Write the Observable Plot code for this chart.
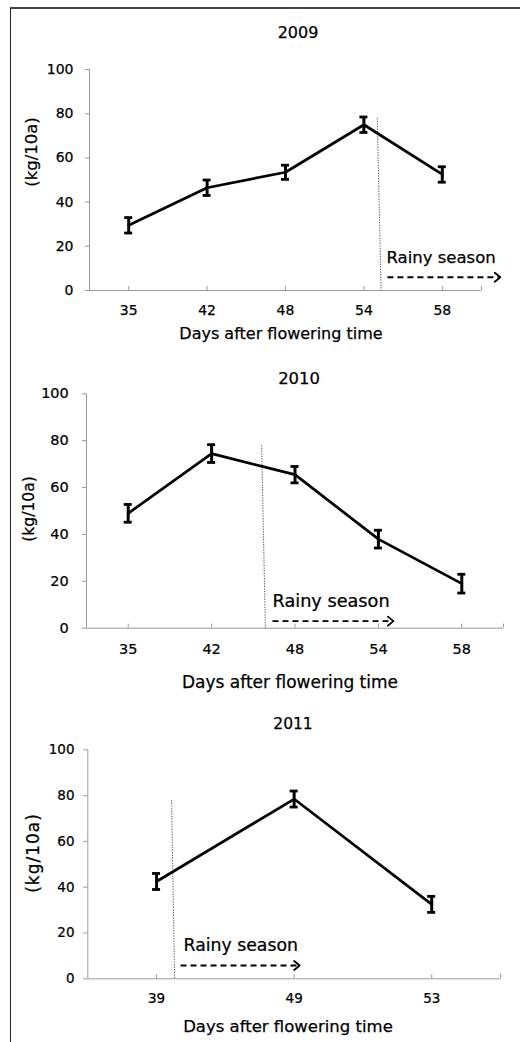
<!DOCTYPE html>
<html><head><meta charset="utf-8">
<script src="https://cdn.jsdelivr.net/npm/d3@7"></script>
<script src="https://cdn.jsdelivr.net/npm/@observablehq/plot@0.6"></script>
<style>
body{margin:0;background:#fff;}
#wrap{position:relative;width:520px;height:1042px;overflow:hidden;font-family:"DejaVu Sans",sans-serif;background:#fff;}
.lbl{position:absolute;white-space:nowrap;transform:translate(-50%,-50%);color:#000;line-height:1;-webkit-text-stroke:0.25px #000;}
.ylbl{transform:translate(-50%,-50%) rotate(-90deg);}
.box{position:absolute;left:0;}
#border{position:absolute;left:10px;top:7px;right:-5px;bottom:-5px;border-top:2px solid #444;border-left:1px solid #222;}
</style></head><body><div id="wrap"><div id="border"></div></div>
<script>
// ---- data ----
const days2009 = [35, 42, 48, 54, 58];
const yield2009 = [29.5, 46.5, 53.5, 75, 52.5];
const err2009 = [3.5, 3.5, 3.2, 3.5, 3.5];

const days2010 = [35, 42, 48, 54, 58];
const yield2010 = [49, 74.5, 65.5, 38, 19];
const err2010 = [3.8, 3.8, 3.5, 3.8, 4];

const days2011 = [39, 49, 53];
const yield2011 = [42.5, 78.5, 32.5];
const err2011 = [3.5, 3.5, 3.5];

const yTicks = [0, 20, 40, 60, 80, 100];
const titles = ["2009", "2010", "2011"];
const xLabel = "Days after flowering time";
const yLabel = "(kg/10a)";
const rainyText = "Rainy season";

// rainy-season onset line and arrow, in category-index / value units
const rainy2009 = {xTop: 3.17, yTop: 78, xBot: 3.22, a0: 3.30, a1: 4.74, ay: 6};
const rainy2010 = {xTop: 1.60, yTop: 78, xBot: 1.645, a0: 1.73, a1: 3.18, ay: 3};
const rainy2011 = {xTop: 0.109, yTop: 78, xBot: 0.131, a0: 0.174, a1: 1.04, ay: 5.8};

// ---- layout ----
const layouts = [
  {top: 0, mt: 69, zero: 290, ml: 89, mr: 39, tf: 14, yPad: 12, xPad: 19, rdx: -1, rfs: 16.5,
   title: [298, 33, 16], xl: [281, 334, 16], yl: [32, 152, 16.5, 0]},
  {top: 330, mt: 63.3, zero: 627.7, ml: 86, mr: 17, tf: 14.5, yPad: 13.7, xPad: 19.2, rdx: 0, rfs: 17.7,
   title: [299, 379, 16.4], xl: [290, 682, 17], yl: [30, 509, 15.5, 0]},
  {top: 700, mt: 49.3, zero: 978.3, ml: 87.3, mr: 20, tf: 13.5, yPad: 9.3, xPad: 19, rdx: 3, rfs: 17.3,
   title: [293, 725, 15.5], xl: [288, 1027, 16.5], yl: [33, 853, 17, 1]}
];

const chevron = {
  draw(ctx, l) {
    ctx.moveTo(-4.5, -l + 5.5);
    ctx.lineTo(0, -l);
    ctx.lineTo(4.5, -l + 5.5);
  }
};

const wrap = document.getElementById("wrap");

function addLabel(text, [x, y, fs, ls], cls) {
  const d = document.createElement("div");
  d.className = "lbl" + (cls ? " " + cls : "");
  d.textContent = text;
  d.style.left = x + "px";
  d.style.top = y + "px";
  d.style.fontSize = fs + "px";
  if (ls) d.style.letterSpacing = ls + "px";
  wrap.appendChild(d);
}

function panel(L, title, days, vals, errs, rainy) {
  const data = days.map((d, i) => ({i, day: d, v: vals[i], e: errs[i]}));
  const n = days.length;
  const xTicks = d3.range(n).concat([n - 0.5]);
  const mb = 35;
  const height = (L.zero - L.top) + mb;
  const gray = "#9a9a9a";
  const svg = Plot.plot({
    width: 520,
    height,
    marginTop: L.mt,
    marginBottom: mb,
    marginLeft: L.ml,
    marginRight: L.mr,
    style: {fontFamily: "DejaVu Sans, sans-serif", fontSize: L.tf + "px", color: "#000", background: "transparent", overflow: "visible"},
    x: {domain: [-0.5, n - 0.5]},
    y: {domain: [0, 100]},
    marks: [
      Plot.ruleX([-0.5], {stroke: gray}),
      Plot.ruleY([0], {stroke: gray}),
      Plot.axisY(yTicks, {tickSize: 4, tickPadding: L.yPad, stroke: gray, fill: "#000", label: null,
        textStroke: "#000", textStrokeWidth: 0.25}),
      Plot.axisX(xTicks, {tickSize: -4, tickPadding: L.xPad, stroke: gray, fill: "#000", label: null,
        textStroke: "#000", textStrokeWidth: 0.25,
        tickFormat: t => Number.isInteger(t) ? String(days[t]) : ""}),
      Plot.link([rainy], {x1: "xTop", y1: "yTop", x2: "xBot", y2: () => 0,
        stroke: "#555", strokeWidth: 1, strokeDasharray: "1.3,1.3"}),
      Plot.link([rainy], {x1: "a0", x2: "a1", y1: "ay", y2: "ay",
        stroke: "#000", strokeWidth: 1.8, strokeDasharray: "6,4"}),
      Plot.vector([rainy], {x: "a1", y: "ay", rotate: 90, length: 6, anchor: "end", shape: chevron,
        stroke: "#000", strokeWidth: 1.8}),
      Plot.text([rainy], {x: "a0", y: "ay", text: () => rainyText, textAnchor: "start",
        dx: L.rdx, dy: -20, fontSize: L.rfs, fill: "#000", stroke: "#000", strokeWidth: 0.25}),
      Plot.line(data, {x: "i", y: "v", stroke: "#000", strokeWidth: 2.7, strokeLinejoin: "round"}),
      Plot.ruleX(data, {x: "i", y1: d => d.v - d.e, y2: d => d.v + d.e, stroke: "#000", strokeWidth: 3}),
      Plot.ruleY(data, {x1: "i", x2: "i", y: d => d.v + d.e, insetLeft: -4, insetRight: -4, stroke: "#000", strokeWidth: 2.8}),
      Plot.ruleY(data, {x1: "i", x2: "i", y: d => d.v - d.e, insetLeft: -4, insetRight: -4, stroke: "#000", strokeWidth: 2.8})
    ]
  });
  const box = document.createElement("div");
  box.className = "box";
  box.style.top = L.top + "px";
  box.appendChild(svg);
  wrap.appendChild(box);
  addLabel(title, L.title);
  addLabel(xLabel, L.xl);
  addLabel(yLabel, L.yl, "ylbl");
}

panel(layouts[0], titles[0], days2009, yield2009, err2009, rainy2009);
panel(layouts[1], titles[1], days2010, yield2010, err2010, rainy2010);
panel(layouts[2], titles[2], days2011, yield2011, err2011, rainy2011);
</script>
</body></html>
